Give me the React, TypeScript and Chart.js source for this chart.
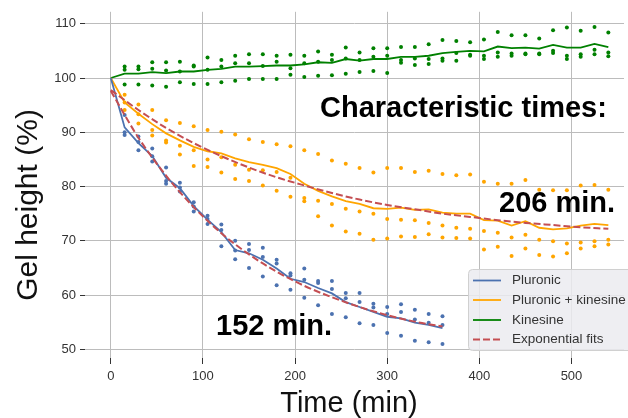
import React, { useEffect, useRef } from "react";
import { Chart, registerables } from "chart.js";

Chart.register(...registerables);

// ---------- data ----------
const xTicks = [0, 100, 200, 300, 400, 500];
const yTicks = [50, 60, 70, 80, 90, 100, 110];

const timesShort = [15, 30, 45, 60, 75, 90, 105, 120, 135, 150, 165, 180, 195, 210, 225, 240, 255, 270, 285, 300, 315, 330, 345, 360];
const timesLong = [15, 30, 45, 60, 75, 90, 105, 120, 135, 150, 165, 180, 195, 210, 225, 240, 255, 270, 285, 300, 315, 330, 345, 360, 375, 390, 405, 420, 435, 450, 465, 480, 495, 510, 525, 540];
const meanTimesShort = [0, 15, 30, 45, 60, 75, 90, 105, 120, 135, 150, 165, 180, 195, 210, 225, 240, 255, 270, 285, 300, 315, 330, 345, 360];
const meanTimesLong = [0, 15, 30, 45, 60, 75, 90, 105, 120, 135, 150, 165, 180, 195, 210, 225, 240, 255, 270, 285, 300, 315, 330, 345, 360, 375, 390, 405, 420, 435, 450, 465, 480, 495, 510, 525, 540];
const fitTimesShort = [0, 30, 60, 90, 120, 150, 180, 210, 240, 270, 300, 330, 360];
const fitTimesLong = [0, 30, 60, 90, 120, 150, 180, 210, 240, 270, 300, 330, 360, 390, 420, 450, 480, 510, 540];

// Pluronic replicates
const pluronicA = [93.2, 89.2, 87.0, 83.5, 80.7, 77.1, 74.6, 73.0, 70.0, 69.4, 68.7, 66.5, 64.0, 64.9, 62.6, 62.6, 60.4, 60.4, 58.4, 57.8, 58.3, 57.3, 56.5, 56.1];
const pluronicB = [90.0, 88.2, 85.6, 81.0, 79.8, 76.3, 74.0, 72.0, 68.2, 68.3, 67.0, 65.8, 63.6, 62.8, 62.2, 61.1, 59.4, 58.7, 57.7, 56.5, 56.9, 55.5, 54.9, 54.5];
const pluronicC = [89.5, 86.7, 84.6, 80.5, 79.1, 75.4, 73.1, 69.0, 66.6, 65.0, 63.4, 61.8, 61.0, 59.5, 58.1, 56.5, 55.9, 54.8, 54.5, 53.0, 52.5, 51.6, 51.3, 51.0];
const pluronicMean = [100, 90.9, 88.0, 85.6, 81.6, 79.7, 76.4, 73.9, 71.6, 68.3, 67.7, 66.5, 64.9, 63.0, 62.4, 61.3, 60.3, 58.7, 57.8, 56.9, 56.0, 55.7, 54.9, 54.5, 53.9];
const pluronicFit = [97.6, 89.0, 82.0, 76.2, 71.4, 67.5, 64.3, 61.7, 59.6, 57.8, 56.3, 55.1, 54.2];

// Pluronic + kinesine replicates
const mixA = [96.9, 95.1, 94.1, 92.2, 91.7, 91.1, 90.4, 90.1, 89.6, 88.7, 88.2, 87.8, 87.4, 86.7, 86.0, 84.8, 84.2, 83.4, 82.6, 83.4, 83.4, 82.7, 82.9, 82.3, 82.1, 82.2, 80.9, 80.5, 80.5, 81.2, 79.4, 79.3, 79.3, 80.2, 80.3, 79.4];
const mixB = [95.5, 93.3, 90.4, 88.5, 87.5, 86.7, 85.0, 85.4, 84.0, 83.1, 83.0, 82.7, 81.6, 77.9, 77.4, 76.8, 75.9, 75.4, 75.0, 74.0, 73.9, 73.8, 73.3, 72.8, 72.4, 72.2, 71.8, 71.5, 70.6, 71.1, 70.2, 69.9, 69.5, 69.7, 69.9, 70.2];
const mixC = [94.1, 91.6, 89.4, 88.1, 85.9, 83.8, 83.6, 82.6, 81.4, 81.0, 80.2, 79.2, 78.1, 77.3, 74.5, 72.8, 71.7, 71.3, 70.2, 70.4, 70.8, 70.7, 71.2, 70.6, 70.5, 70.4, 68.4, 68.9, 67.2, 68.6, 67.4, 67.1, 67.7, 68.6, 69.0, 69.3];
const mixMean = [100, 95.5, 93.4, 91.5, 89.8, 88.5, 87.3, 86.5, 86.1, 85.2, 84.5, 84.0, 83.4, 82.3, 80.5, 79.2, 78.2, 77.3, 76.8, 76.0, 75.9, 76.1, 75.7, 75.8, 75.2, 75.0, 75.0, 73.8, 73.7, 72.8, 73.6, 72.4, 72.1, 72.3, 72.8, 73.1, 72.9];
const mixFit = [97.8, 94.1, 90.8, 88.0, 85.6, 83.5, 81.7, 80.2, 78.8, 77.6, 76.6, 75.8, 75.0, 74.4, 73.8, 73.3, 72.9, 72.5, 72.2];

// Kinesine replicates
const kinA = [102.1, 102.1, 102.9, 102.9, 103.0, 102.3, 103.8, 103.3, 104.1, 104.4, 104.4, 104.1, 104.3, 104.1, 104.9, 104.3, 105.6, 104.7, 105.5, 105.5, 105.7, 105.7, 106.2, 107.0, 106.8, 106.6, 107.1, 108.5, 107.9, 107.9, 107.3, 108.8, 109.3, 108.7, 109.4, 108.4];
const kinB = [101.5, 101.6, 101.7, 101.4, 101.2, 102.1, 101.5, 102.1, 102.7, 102.7, 102.2, 103.0, 101.8, 102.7, 103.0, 103.3, 103.6, 103.3, 103.9, 104.1, 103.3, 103.6, 103.5, 103.6, 104.6, 104.3, 104.1, 104.7, 104.5, 104.5, 104.5, 105.0, 104.1, 104.4, 105.2, 104.7];
const kinC = [98.8, 98.8, 98.6, 98.4, 99.2, 98.9, 98.9, 99.2, 99.5, 99.8, 99.8, 99.8, 100.6, 100.2, 100.4, 100.5, 100.8, 101.1, 101.3, 100.9, 102.8, 102.4, 102.6, 103.2, 103.2, 104.1, 103.5, 103.9, 104.1, 104.4, 104.4, 104.6, 103.5, 103.9, 104.4, 104.0];
const kinMean = [100, 100.8, 100.8, 101.1, 100.9, 101.2, 101.2, 101.5, 101.7, 102.1, 102.1, 102.2, 102.3, 102.3, 102.5, 102.9, 102.8, 103.5, 103.2, 103.5, 103.5, 103.9, 103.9, 104.1, 104.6, 104.8, 105.0, 104.9, 105.8, 105.5, 105.6, 105.4, 106.1, 105.6, 105.6, 106.3, 105.7];

const legendLabels = ["Pluronic", "Pluronic + kinesine", "Kinesine", "Exponential fits"];
const xTitle = "Time (min)";
const yTitle = "Gel height (%)";
const headline = "Characteristic times:";
const mixTau = "206 min.";
const pluronicTau = "152 min.";

// ---------- styles ----------
const BLUE = "#4c72b0";
const ORANGE = "#ffa500";
const GREEN = "#008000";
const RED = "#c44e52";
const FONT = "'Liberation Sans', Arial, sans-serif";

const pts = (xs: number[], ys: number[]) => xs.map((x, i) => ({ x, y: ys[i] }));

const dots = (xs: number[], ys: number[], color: string) => ({
  data: pts(xs, ys),
  showLine: false,
  pointRadius: 2,
  pointBackgroundColor: color,
  pointBorderWidth: 0,
  borderColor: color,
  backgroundColor: color,
  order: 3,
});

const line = (label: string, xs: number[], ys: number[], color: string, dashed = false) => ({
  label,
  data: pts(xs, ys),
  showLine: true,
  pointRadius: 0,
  borderColor: color,
  backgroundColor: color,
  borderWidth: dashed ? 2 : 1.8,
  borderDash: dashed ? [7, 3] : [],
  cubicInterpolationMode: dashed ? ("monotone" as const) : ("default" as const),
  tension: 0,
  order: dashed ? 1 : 2,
});

const overlayPlugin = {
  id: "overlay",
  afterDraw(chart: any) {
    const ctx = chart.ctx as CanvasRenderingContext2D;
    ctx.save();
    // annotations
    ctx.fillStyle = "#000";
    ctx.font = `bold 29px ${FONT}`;
    ctx.textAlign = "left";
    ctx.textBaseline = "alphabetic";
    ctx.fillText(headline, 320, 117);
    ctx.fillText(mixTau, 499, 212);
    ctx.fillText(pluronicTau, 216, 335);

    // axis titles
    ctx.fillStyle = "#111";
    ctx.font = `29px ${FONT}`;
    ctx.textAlign = "center";
    ctx.fillText(xTitle, 349, 412);
    ctx.save();
    ctx.translate(37, 205);
    ctx.rotate(-Math.PI / 2);
    ctx.font = `30px ${FONT}`;
    ctx.fillText(yTitle, 0, 0);
    ctx.restore();

    // legend
    const bx = 468.5, by = 269.5, bw = 170, bh = 81;
    ctx.beginPath();
    (ctx as any).roundRect(bx, by, bw, bh, 4);
    ctx.fillStyle = "rgba(235,235,240,0.85)";
    ctx.fill();
    ctx.strokeStyle = "#d0d0d0";
    ctx.lineWidth = 1;
    ctx.stroke();
    const colors = [BLUE, ORANGE, GREEN, RED];
    const rows = [280.5, 300, 320, 339.5];
    ctx.font = `13.5px ${FONT}`;
    ctx.textAlign = "left";
    ctx.textBaseline = "middle";
    legendLabels.forEach((lab, i) => {
      ctx.beginPath();
      ctx.strokeStyle = colors[i];
      ctx.lineWidth = i === 3 ? 2 : 1.8;
      ctx.setLineDash(i === 3 ? [7, 3] : []);
      ctx.moveTo(473, rows[i]);
      ctx.lineTo(501, rows[i]);
      ctx.stroke();
      ctx.setLineDash([]);
      ctx.fillStyle = "#333";
      ctx.fillText(lab, 512, rows[i]);
    });
    ctx.restore();
  },
};

export default function App() {
  const ref = useRef<HTMLCanvasElement | null>(null);
  useEffect(() => {
    if (!ref.current) return;
    const chart = new Chart(ref.current, {
      type: "scatter",
      data: {
        datasets: [
          line("Exponential fits", fitTimesShort, pluronicFit, RED, true),
          line("Exponential fits", fitTimesLong, mixFit, RED, true),
          line(legendLabels[0], meanTimesShort, pluronicMean, BLUE),
          line(legendLabels[1], meanTimesLong, mixMean, ORANGE),
          line(legendLabels[2], meanTimesLong, kinMean, GREEN),
          dots(timesShort, pluronicA, BLUE),
          dots(timesShort, pluronicB, BLUE),
          dots(timesShort, pluronicC, BLUE),
          dots(timesLong, mixA, ORANGE),
          dots(timesLong, mixB, ORANGE),
          dots(timesLong, mixC, ORANGE),
          dots(timesLong, kinA, GREEN),
          dots(timesLong, kinB, GREEN),
          dots(timesLong, kinC, GREEN),
        ] as any,
      },
      options: {
        animation: false,
        responsive: false,
        maintainAspectRatio: false,
        layout: { padding: { left: 0, top: 10, right: 0, bottom: 0 } },
        plugins: { legend: { display: false }, tooltip: { enabled: false } },
        scales: {
          x: {
            type: "linear",
            min: -28,
            max: 557,
            afterBuildTicks: (axis: any) => {
              axis.ticks = xTicks.map((v) => ({ value: v }));
            },
            afterFit: (scale: any) => {
              scale.height = 60;
            },
            border: { display: false },
            grid: { color: "#bcbcbc", lineWidth: 1, drawTicks: true, tickLength: 6, tickColor: "#333", tickWidth: 1 },
            ticks: { color: "#333", font: { family: FONT, size: 13 }, padding: 5, maxRotation: 0 },
          },
          y: {
            type: "linear",
            min: 48.4,
            max: 112.2,
            afterBuildTicks: (axis: any) => {
              axis.ticks = yTicks.map((v) => ({ value: v }));
            },
            afterFit: (scale: any) => {
              scale.width = 85;
            },
            border: { display: false },
            grid: { color: "#bcbcbc", lineWidth: 1, drawTicks: true, tickLength: 5, tickColor: "#333", tickWidth: 1 },
            ticks: { color: "#333", font: { family: FONT, size: 13 }, padding: 4 },
          },
        },
      },
      plugins: [overlayPlugin],
    });
    return () => chart.destroy();
  }, []);
  return (
    <div style={{ position: "fixed", left: 0, top: 0, width: 628, height: 418, background: "#fff" }}>
      <canvas ref={ref} width={628} height={418} style={{ display: "block" }} />
    </div>
  );
}
